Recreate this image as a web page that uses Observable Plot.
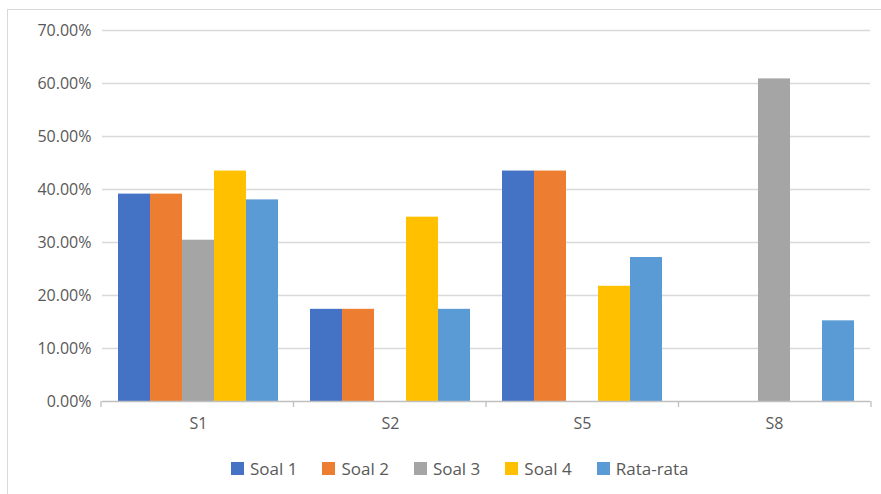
<!DOCTYPE html>
<html><head><meta charset="utf-8">
<script src="https://cdn.jsdelivr.net/npm/d3@7"></script>
<script src="https://cdn.jsdelivr.net/npm/@observablehq/plot@0.6"></script>
<style>
body{margin:0;background:#fff;}
#wrap{position:relative;width:881px;height:494px;overflow:hidden;font-family:"Open Sans",sans-serif;background:#fff;}
#frame{position:absolute;left:7px;top:9px;width:900px;height:500px;border-left:1px solid #d9d9d9;border-top:1px solid #d9d9d9;}
#chart{position:absolute;left:0;top:0;}
#legend{position:absolute;left:231px;top:457px;display:flex;align-items:center;font-size:17px;color:#595959;white-space:nowrap;}
.item{display:flex;align-items:center;margin-right:25px;}
.sw{width:13px;height:13px;margin-right:6px;}
</style>
</head><body>
<div id="wrap"><div id="frame"></div><div id="chart"></div><div id="legend"></div></div>
<script>
const categories = ["S1", "S2", "S5", "S8"];
const series = ["Soal 1", "Soal 2", "Soal 3", "Soal 4", "Rata-rata"];
const soal1 = [0.3913, 0.1739, 0.4348, 0];
const soal2 = [0.3913, 0.1739, 0.4348, 0];
const soal3 = [0.3043, 0, 0, 0.6087];
const soal4 = [0.4348, 0.3478, 0.2174, 0];
const rataRata = [0.3804, 0.1739, 0.2717, 0.1522];
const yTicks = [0, 0.1, 0.2, 0.3, 0.4, 0.5, 0.6, 0.7];
const yTickLabels = ["0.00%", "10.00%", "20.00%", "30.00%", "40.00%", "50.00%", "60.00%", "70.00%"];
const colors = ["#4472C4", "#ED7D31", "#A5A5A5", "#FFC000", "#5B9BD5"];

const values = [soal1, soal2, soal3, soal4, rataRata];
const data = categories.flatMap((c, i) => series.map((s, j) => ({cat: c, series: s, value: values[j][i]})));

const chart = Plot.plot({
  width: 881, height: 440,
  marginLeft: 101, marginRight: 10, marginTop: 30, marginBottom: 39,
  style: {fontFamily: "'Open Sans', sans-serif", fontSize: "16px", color: "#595959", background: "transparent"},
  fx: {domain: categories, padding: 0, axis: "bottom", tickSize: 0, tickPadding: 16, label: null},
  x: {domain: series, axis: null, paddingInner: 0, paddingOuter: 0.5},
  y: {domain: [0, 0.7], ticks: yTicks, tickFormat: d => yTickLabels[yTicks.findIndex(t => Math.abs(t - d) < 1e-9)], tickSize: 0, tickPadding: 11, label: null},
  color: {domain: series, range: colors},
  marks: [
    Plot.ruleY(yTicks.slice(1), {stroke: "#d9d9d9", strokeWidth: 1.3}),
    Plot.barY(data, {fx: "cat", x: "series", y: "value", fill: "series"}),
    Plot.ruleY([0], {stroke: "#bfbfbf", strokeWidth: 1.3})
  ]
});
document.getElementById("chart").appendChild(chart);

// category boundary ticks derived from the fx scale
const fx = chart.scale("fx");
const band = d3.scaleBand().domain(fx.domain).range(fx.range).padding(0);
const ysc = chart.scale("y");
const y0 = ysc.apply(0);
const bounds = categories.map(c => band(c)).concat([band(categories[categories.length - 1]) + band.bandwidth()]);
const g = d3.select(chart).append("g").attr("stroke", "#bfbfbf").attr("stroke-width", 1.3);
bounds.forEach(x => g.append("line").attr("x1", x).attr("x2", x).attr("y1", y0).attr("y2", y0 + 6));

const legend = d3.select("#legend");
series.forEach((s, i) => {
  const it = legend.append("div").attr("class", "item");
  it.append("div").attr("class", "sw").style("background", colors[i]);
  it.append("span").text(s);
});
</script>
</body></html>
